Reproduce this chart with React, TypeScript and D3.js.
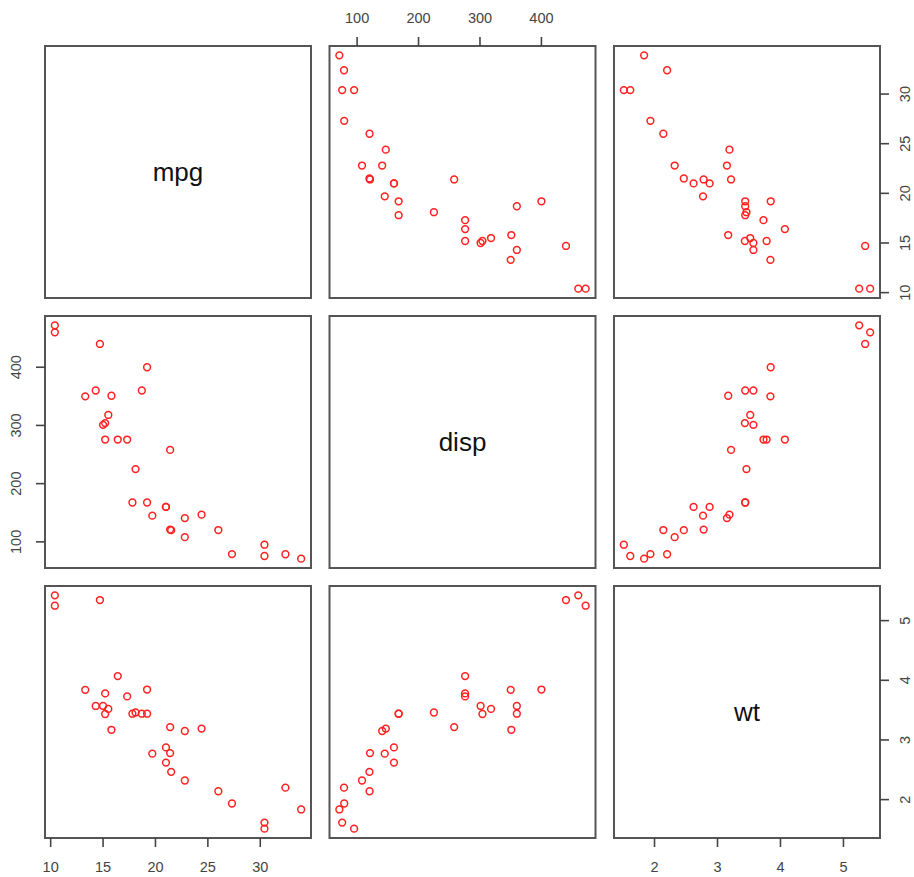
import React from "react";
import * as d3 from "d3";

const varNames = ["mpg", "disp", "wt"];
const mpg = [21.0, 21.0, 22.8, 21.4, 18.7, 18.1, 14.3, 24.4, 22.8, 19.2, 17.8, 16.4, 17.3, 15.2, 10.4, 10.4, 14.7, 32.4, 30.4, 33.9, 21.5, 15.5, 15.2, 13.3, 19.2, 27.3, 26.0, 30.4, 15.8, 19.7, 15.0, 21.4];
const disp = [160, 160, 108, 258, 360, 225, 360, 146.7, 140.8, 167.6, 167.6, 275.8, 275.8, 275.8, 472, 460, 440, 78.7, 75.7, 71.1, 120.1, 318, 304, 350, 400, 79, 120.3, 95.1, 351, 145, 301, 121];
const wt = [2.62, 2.875, 2.32, 3.215, 3.44, 3.46, 3.57, 3.19, 3.15, 3.44, 3.44, 4.07, 3.73, 3.78, 5.25, 5.424, 5.345, 2.2, 1.615, 1.835, 2.465, 3.52, 3.435, 3.84, 3.845, 1.935, 2.14, 1.513, 3.17, 2.77, 3.57, 2.78];
const mpgTicks = [10, 15, 20, 25, 30];
const dispTicks = [100, 200, 300, 400];
const wtTicks = [2, 3, 4, 5];

const data = [mpg, disp, wt];
const ticks = [mpgTicks, dispTicks, wtTicks];

const colX = [45, 329.5, 614];
const rowY = [46, 316, 586];
const PW = 266;
const PH = 252;
const FRAME = "#555555";
const TICKC = "#444444";

function ext(v: number[]): [number, number] {
  const [a, b] = d3.extent(v) as [number, number];
  const p = (b - a) * 0.04;
  return [a - p, b + p];
}

export default function App() {
  const n = 3;
  const xScales = data.map((v, j) => d3.scaleLinear().domain(ext(v)).range([colX[j], colX[j] + PW]));
  const yScales = data.map((v, i) => d3.scaleLinear().domain(ext(v)).range([rowY[i] + PH, rowY[i]]));
  const panels: React.ReactNode[] = [];
  for (let i = 0; i < n; i++) {
    for (let j = 0; j < n; j++) {
      const x0 = colX[j], y0 = rowY[i];
      const items: React.ReactNode[] = [];
      if (i === j) {
        items.push(
          <text key="lab" x={x0 + PW / 2} y={y0 + PH / 2} textAnchor="middle" dominantBaseline="central"
            fontFamily="Liberation Sans, Arial, sans-serif" fontSize={26} fill="#111">{varNames[i]}</text>
        );
      } else {
        const xs = data[j], ys = data[i];
        xs.forEach((xv, k) => {
          items.push(
            <circle key={"p" + k} cx={xScales[j](xv)} cy={yScales[i](ys[k])} r={3.4}
              fill="none" stroke="#ff2020" strokeWidth={1.5} />
          );
        });
      }
      items.push(
        <rect key="frame" x={x0} y={y0} width={PW} height={PH} fill="none" stroke={FRAME} strokeWidth={2} />
      );
      panels.push(<g key={`${i}-${j}`}>{items}</g>);
    }
  }

  const axes: React.ReactNode[] = [];
  const font = "Liberation Sans, Arial, sans-serif";
  for (let j = 0; j < n; j++) {
    const top = j % 2 === 1;
    const yEdge = top ? rowY[0] : rowY[n - 1] + PH;
    const dir = top ? -1 : 1;
    ticks[j].forEach((t) => {
      const x = xScales[j](t);
      axes.push(<line key={`xt${j}-${t}`} x1={x} x2={x} y1={yEdge} y2={yEdge + dir * 9} stroke={TICKC} strokeWidth={1.6} />);
      axes.push(
        <text key={`xl${j}-${t}`} x={x} y={top ? yEdge - 28 : yEdge + 29} textAnchor="middle" dominantBaseline="central"
          fontFamily={font} fontSize={14.5} fill={TICKC}>{t}</text>
      );
    });
  }
  for (let i = 0; i < n; i++) {
    const left = i % 2 === 1;
    const xEdge = left ? colX[0] : colX[n - 1] + PW;
    const dir = left ? -1 : 1;
    ticks[i].forEach((t) => {
      const y = yScales[i](t);
      axes.push(<line key={`yt${i}-${t}`} x1={xEdge} x2={xEdge + dir * 9} y1={y} y2={y} stroke={TICKC} strokeWidth={1.6} />);
      const lx = left ? xEdge - 29 : xEdge + 25;
      axes.push(
        <text key={`yl${i}-${t}`} x={lx} y={y} textAnchor="middle" dominantBaseline="central"
          transform={`rotate(-90 ${lx} ${y})`} fontFamily={font} fontSize={14.5} fill={TICKC}>{t}</text>
      );
    });
  }

  return (
    <svg width={914} height={877} style={{ position: "absolute", left: 0, top: 0, background: "#fff" }}>
      <rect x={0} y={0} width={914} height={877} fill="#fff" />
      {panels}
      {axes}
    </svg>
  );
}
